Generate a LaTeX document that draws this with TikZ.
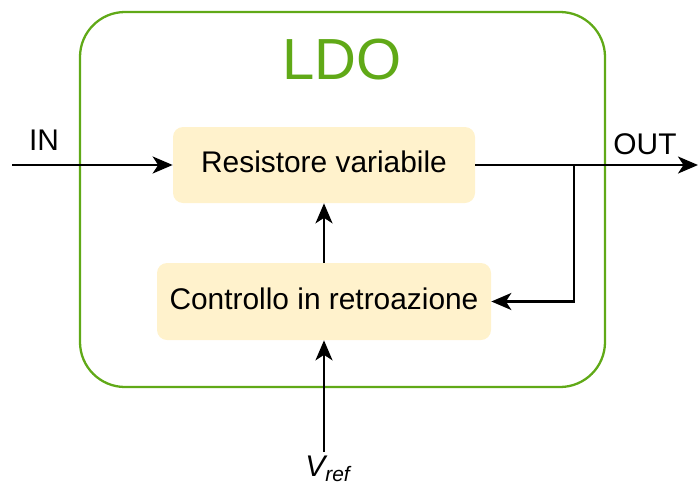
\documentclass[tikz,border=0pt]{standalone}
\usepackage{fontspec}
\setmainfont{Liberation Sans}
\usetikzlibrary{arrows.meta}
\definecolor{ldogreen}{RGB}{96,169,23}
\definecolor{blockfill}{RGB}{255,242,204}
\begin{document}
\begin{tikzpicture}[
  block/.style = {fill=blockfill, rounded corners=0.2cm, font=\fontsize{17}{20}\selectfont},
  wire/.style = {line width=1.3pt, -{Stealth[length=0.4cm, width=0.34cm, inset=0.11cm]}},
  lbl/.style = {font=\fontsize{17}{20}\selectfont}]
\useasboundingbox (0,0) rectangle (14,9.8);
\draw(6.85,5.81) node[draw=ldogreen, line width=1.3pt, rounded corners=0.9cm,
  minimum width=10.5cm, minimum height=7.5cm](ldo){};
\draw(6.84,8.6) node[text=ldogreen, font=\fontsize{33}{36}\selectfont](title){LDO};
%
\draw(6.48,6.5) node[block, minimum width=6.04cm, minimum height=1.52cm](resistor)
  {\raisebox{0.15cm}{Resistore variabile}};
\draw(6.48,3.77) node[block, minimum width=6.68cm, minimum height=1.54cm](control)
  {\raisebox{0.1cm}{Controllo in retroazione}};
%
\coordinate (in) at (0.24,6.5);
\coordinate (out) at (13.96,6.5);
\coordinate (vref) at (6.48,0.76);
\draw[wire] (in) -- (resistor);
\draw (0.88,7.0) node[lbl](inlabel){IN};
\draw[wire] (resistor) -- (out);
\draw (12.9,6.92) node[lbl](outlabel){OUT};
%
\draw[wire] (control) -- (resistor);
\draw[wire] (11.48,6.5) |- (control.east);
\draw[wire] (vref) -- (control);
\draw (6.56,0.42) node[lbl](vreflabel){\itshape V\textsubscript{ref}};
\end{tikzpicture}
\end{document}
